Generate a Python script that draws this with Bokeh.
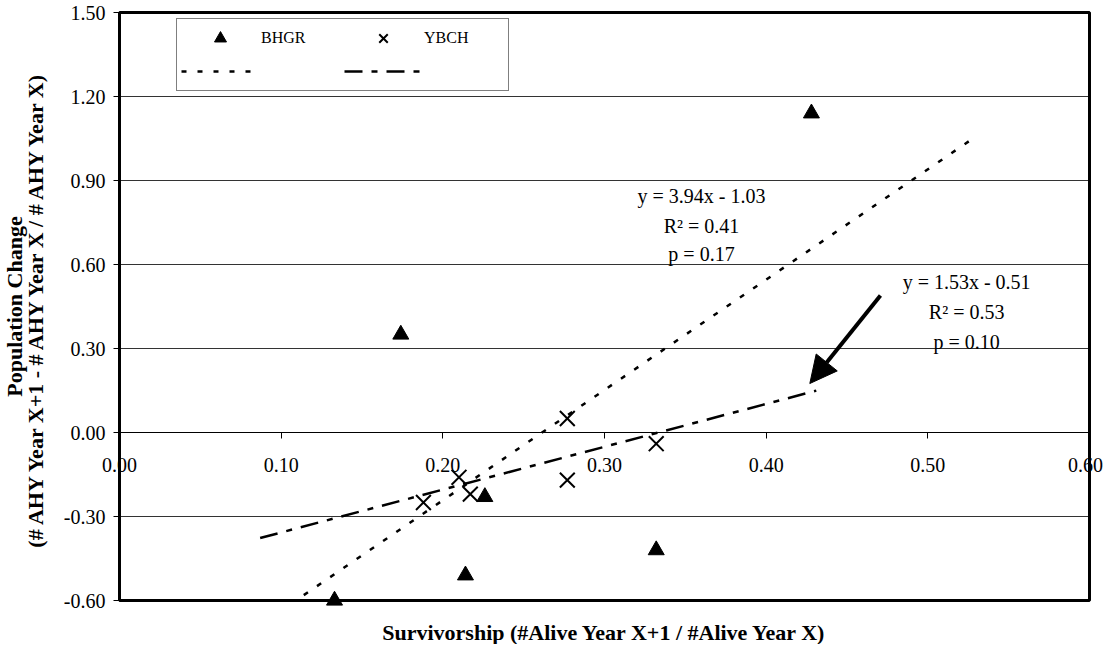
import math
from bokeh.plotting import figure
from bokeh.models import (Range1d, FixedTicker, PrintfTickFormatter, Legend, LegendItem,
                          Arrow, NormalHead, LabelSet, ColumnDataSource)
from bokeh.core.properties import value
from bokeh.embed import file_html
from bokeh.resources import INLINE

FONT = "Liberation Serif"

# ---- data ----
bhgr_x = [0.428, 0.174, 0.226, 0.214, 0.133, 0.332]
bhgr_y = [1.14, 0.35, -0.23, -0.51, -0.60, -0.42]
ybch_x = [0.188, 0.210, 0.217, 0.277, 0.277, 0.332]
ybch_y = [-0.25, -0.16, -0.22, 0.05, -0.17, -0.04]

# trend lines (slope, intercept as printed) and their drawn x-extent
bhgr_fit = (3.94, -1.03)
bhgr_fit_x = [0.114, 0.526]
ybch_fit = (1.53, -0.51)
ybch_fit_x = [0.087, 0.431]

# axis extents and ticks
x_min, x_max = 0.0, 0.6
y_min, y_max = -0.6, 1.5
x_ticks = [0.0, 0.1, 0.2, 0.3, 0.4, 0.5, 0.6]
x_tick_labels = ["0.00", "0.10", "0.20", "0.30", "0.40", "0.50", "0.60"]
y_ticks = [-0.6, -0.3, 0.0, 0.3, 0.6, 0.9, 1.2, 1.5]

bhgr_text = ["y = 3.94x - 1.03", "R\u00b2 = 0.41", "p = 0.17"]
ybch_text = ["y = 1.53x - 0.51", "R\u00b2 = 0.53", "p = 0.10"]

x_title = "Survivorship (#Alive Year X+1 / #Alive Year X)"
y_title_lines = ["Population Change", "(# AHY Year X+1 - # AHY Year X / # AHY Year X)"]

# ---- figure: the frame covers the whole canvas; the plot area is drawn inside ----
W, H = 1104, 644
PX_X = 970 / 0.6      # pixels per x unit
PX_Y = 588 / 2.1      # pixels per y unit
x0_px, y_top_px = 119, 12          # canvas position of (x_min, y_max)
xr = Range1d(x_min - x0_px / PX_X, x_min + (W - x0_px) / PX_X)
yr = Range1d(y_max - (H - y_top_px) / PX_Y, y_max + y_top_px / PX_Y)

p = figure(width=W, height=H, output_backend="svg", toolbar_location=None,
           x_range=xr, y_range=yr, min_border=0,
           background_fill_color="white", border_fill_color="white")
p.outline_line_color = None
p.xgrid.visible = False
p.ygrid.visible = False

# horizontal gridlines across the plot area
p.segment(x0=[x_min] * len(y_ticks), x1=[x_max] * len(y_ticks), y0=y_ticks, y1=y_ticks,
          line_color="#333333", line_width=1)

# x axis crossing at y = 0
xa = p.xaxis[0]
xa.fixed_location = 0
xa.bounds = (x_min, x_max)
xa.ticker = FixedTicker(ticks=x_ticks)
xa.major_tick_out = 6
xa.major_tick_in = 0
xa.minor_tick_line_color = None
xa.axis_line_color = "black"
xa.major_tick_line_color = "black"
xa.major_label_text_color = None
xa.major_label_text_font_size = "20px"

xlab_src = ColumnDataSource(dict(x=x_ticks, y=[0.0] * len(x_ticks), t=x_tick_labels,
                                 dx=[0, 0, 0, 0, 0, 0, -4]))
p.add_layout(LabelSet(x="x", y="y", text="t", source=xlab_src, y_offset=-32, x_offset="dx",
                      text_font=value(FONT), text_font_size="20px", text_color="black",
                      text_align="center", text_baseline="middle"))

# y axis at x = 0
ya = p.yaxis[0]
ya.fixed_location = 0
ya.bounds = (y_min, y_max)
ya.ticker = FixedTicker(ticks=y_ticks)
ya.formatter = PrintfTickFormatter(format="%.2f")
ya.major_tick_out = 6
ya.major_tick_in = 0
ya.minor_tick_line_color = None
ya.axis_line_color = "black"
ya.axis_line_width = 2
ya.major_tick_line_color = "black"
ya.major_label_text_font = FONT
ya.major_label_text_font_size = "20px"
ya.major_label_text_color = "black"
ya.major_label_standoff = 8

# plot-area border
p.quad(left=[x_min], right=[x_max], bottom=[y_min], top=[y_max],
       fill_color=None, line_color="black", line_width=3)

# axis titles
p.text(x=[x_min - 105 / PX_X, x_min - 84 / PX_X], y=[(y_min + y_max) / 2] * 2,
       text=y_title_lines, angle=math.pi / 2,
       text_font=value(FONT), text_font_size="22px", text_font_style="bold",
       text_color="black", text_align="center", text_baseline="middle")
p.text(x=[(x_min + x_max) / 2], y=[y_min - 32 / PX_Y], text=[x_title],
       text_font=value(FONT), text_font_size="22px", text_font_style="bold",
       text_color="black", text_align="center", text_baseline="middle")

# ---- trend lines ----
bl_y = [bhgr_fit[0] * x + bhgr_fit[1] for x in bhgr_fit_x]
yl_y = [ybch_fit[0] * x + ybch_fit[1] for x in ybch_fit_x]
r_bl = p.line(bhgr_fit_x, bl_y, line_color="black", line_width=2.5, line_dash="5 11")
r_yl = p.line(ybch_fit_x, yl_y, line_color="black", line_width=2.5, line_dash="18 9 6 9")

# ---- points ----
r_b = p.scatter(bhgr_x, bhgr_y, marker="triangle", size=16, fill_color="black",
                line_color="black")
r_y = p.scatter(ybch_x, ybch_y, marker="x", size=21, line_color="black", line_width=2)

# ---- annotations ----
p.text(x=[0.36] * 3, y=[0.843, 0.739, 0.636], text=bhgr_text,
       text_font=value(FONT), text_font_size="20px", text_color="black",
       text_align="center", text_baseline="middle")
p.text(x=[0.524] * 3, y=[0.536, 0.429, 0.325], text=ybch_text,
       text_font=value(FONT), text_font_size="20px", text_color="black",
       text_align="center", text_baseline="middle")

p.add_layout(Arrow(end=NormalHead(size=27, fill_color="black", line_color="black"),
                   x_start=0.4707, y_start=0.489, x_end=0.427, y_end=0.175,
                   line_width=4, line_color="black"))

# ---- legend ----
legend = Legend(items=[LegendItem(label="BHGR", renderers=[r_b]),
                       LegendItem(label="YBCH", renderers=[r_y]),
                       LegendItem(label="", renderers=[r_bl]),
                       LegendItem(label="", renderers=[r_yl])],
                orientation="horizontal", ncols=2, location=(176, 553),
                padding=4, spacing=3, margin=0,
                glyph_width=78, glyph_height=30, label_height=30, label_width=80,
                label_standoff=2, label_text_font=FONT, label_text_font_size="16px",
                label_text_color="black",
                border_line_color="black", border_line_width=1,
                background_fill_color="white", background_fill_alpha=1)
p.add_layout(legend)

open("out.html", "w").write(file_html(p, INLINE))
